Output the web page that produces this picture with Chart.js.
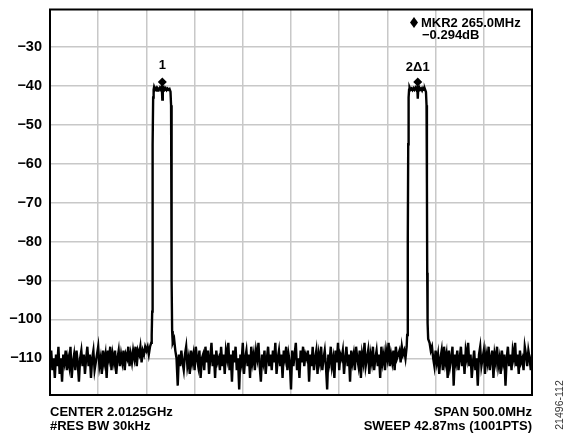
<!DOCTYPE html>
<html><head><meta charset="utf-8">
<script src="https://cdn.jsdelivr.net/npm/chart.js@4/dist/chart.umd.min.js"></script>
<style>html,body{margin:0;padding:0;background:#fff}#w{width:566px;height:436px}</style>
</head><body><div id="w"><canvas id="c" width="566" height="436"></canvas></div>
<script>
// Frequency offsets are in MHz from the start of the 500 MHz span (centre 2.0125 GHz)
const stepMHz = 1.25;
const noiseAStart = 0;
const noiseA = [
-111,-108,-113,-110,-115,-109,-112,-107,-114,-110,
-116,-109,-111,-108,-113,-110,-112,-107,-115,-111,
-109,-113,-108,-111,-116,-110,-108,-112,-109,-114,
-110,-107,-112,-109,-115,-110,-108,-113,-111,-109,
-107,-112,-110,-114,-108,-111,-109,-115,-108,-110,
-107,-113,-109,-111,-108,-114,-110,-108,-112,-109,
-111,-108,-113,-109,-110,-107,-112,-109,-111,-108,
-110,-107,-112,-108,-109,-107,-111,-108,-109,-107,
-108,-107,-109,-107,-106];
const band1Freq = [105.5,106,106.3,106.6,107,107.5,108,109,110,111,112,113,114,115,116,116.5,117,118,119,120,121,122,123,124,125,125.6,126,126.3,126.7,127.3];
const band1Level = [-104,-98,-80,-55,-43,-41,-40.3,-41,-40.6,-41.2,-40.7,-41,-40.5,-41,-40.2,-43.5,-40.8,-40.4,-41,-40.6,-41.1,-40.7,-41,-40.8,-41.5,-45,-65,-90,-103,-106];
const noiseBStart = 128.75;
const noiseB = [
-105,-108,-110,-117,-109,-112,-108,-111,-113,-109,
-107,-112,-110,-114,-108,-111,-109,-113,-107,-110,
-112,-108,-115,-110,-109,-113,-107,-111,-108,-114,
-110,-106,-112,-109,-115,-108,-111,-110,-113,-107,
-112,-109,-114,-108,-110,-106,-113,-109,-116,-108,
-111,-107,-113,-110,-118,-109,-111,-106,-114,-110,
-108,-112,-109,-115,-107,-111,-109,-113,-108,-110,
-106,-112,-116,-109,-111,-108,-114,-110,-107,-112,
-109,-113,-108,-111,-106,-114,-110,-108,-112,-109,
-115,-108,-110,-107,-113,-109,-111,-118,-108,-112,
-109,-106,-113,-110,-115,-108,-111,-107,-112,-109,
-110,-108,-116,-109,-112,-107,-113,-110,-108,-114,
-109,-111,-107,-113,-110,-108,-112,-118,-109,-111,
-107,-112,-110,-115,-108,-111,-106,-113,-109,-110,
-108,-114,-110,-107,-112,-109,-116,-108,-111,-109,
-113,-107,-110,-112,-108,-115,-109,-111,-106,-112,
-110,-108,-114,-109,-111,-107,-113,-110,-108,-112,
-109,-115,-107,-111,-109,-113,-108,-110,-106,-112,
-109,-111,-108,-113,-107,-110,-109,-108,-111,-107,
-109,-108,-110,-107];
const band2Freq = [370.5,371,371.3,371.6,372,372.5,373,374,375,376,377,378,379,380,381,381.5,382,383,384,385,386,387,388,389,390,390.6,391,391.3,391.7,392.3];
const band2Level = [-104,-98,-80,-55,-43,-41,-40.4,-41,-40.7,-41.1,-40.6,-41,-40.5,-41,-40.3,-43.3,-40.8,-40.4,-41,-40.7,-41.2,-40.6,-41,-40.9,-41.6,-45,-65,-88,-101,-105];
const noiseCStart = 393.75;
const noiseC = [
-106,-108,-107,-110,-112,-108,-111,-109,-114,-110,
-108,-113,-107,-111,-109,-115,-108,-112,-110,-107,
-117,-109,-111,-108,-113,-110,-107,-112,-109,-114,
-108,-110,-106,-112,-109,-115,-111,-108,-113,-110,
-117,-109,-107,-112,-110,-108,-114,-109,-111,-107,
-113,-110,-108,-115,-109,-111,-107,-112,-110,-114,
-108,-111,-109,-117,-110,-107,-112,-109,-113,-108,
-110,-106,-112,-109,-114,-108,-111,-110,-113,-107,
-109,-112,-108,-110,-113,-109];
const markerFreq = [116.5, 381.5];
const markerLevel = [-39.0, -39.0];
const markerLabels = ['1', '2Δ1'];
const yTicks = [-110,-100,-90,-80,-70,-60,-50,-40,-30];

const pts = [];
noiseA.forEach((v,i)=>pts.push({x:noiseAStart+i*stepMHz,y:v}));
band1Freq.forEach((f,i)=>pts.push({x:f,y:band1Level[i]}));
noiseB.forEach((v,i)=>pts.push({x:noiseBStart+i*stepMHz,y:v}));
band2Freq.forEach((f,i)=>pts.push({x:f,y:band2Level[i]}));
noiseC.forEach((v,i)=>pts.push({x:noiseCStart+i*stepMHz,y:v}));
const markers = markerFreq.map((f,i)=>({x:f,y:markerLevel[i]}));

const FONT = "'Liberation Sans', Arial, sans-serif";
const overlay = {
  id:'overlay',
  afterDraw(chart){
    const {ctx, chartArea:a, scales:{x,y}} = chart;
    ctx.save();
    ctx.strokeStyle='#000'; ctx.lineWidth=2;
    ctx.strokeRect(a.left, a.top, a.right-a.left, a.bottom-a.top);
    ctx.fillStyle='#000';
    ctx.font='bold 13px '+FONT;
    ctx.textAlign='center'; ctx.textBaseline='middle';
    markers.forEach((m,i)=>{
      ctx.fillText(markerLabels[i], x.getPixelForValue(m.x), y.getPixelForValue(m.y)-(i===0?17:15));
    });
    // marker readout
    ctx.textAlign='left';
    ctx.font='bold 13px '+FONT;
    const dx=414, dy=22.5;
    ctx.beginPath(); ctx.moveTo(dx,dy-5.5); ctx.lineTo(dx+4,dy); ctx.lineTo(dx,dy+5.5); ctx.lineTo(dx-4,dy); ctx.closePath(); ctx.fill();
    ctx.fillText('MKR2 265.0MHz', 421, 23);
    ctx.fillText('\u22120.294dB', 422, 35);
    // bottom annotations
    ctx.fillText('CENTER 2.0125GHz', 50, 412);
    ctx.fillText('#RES BW 30kHz', 50, 426);
    ctx.textAlign='right';
    ctx.fillText('SPAN 500.0MHz', 532, 412);
    ctx.fillText('SWEEP 42.87ms (1001PTS)', 532, 426);
    // figure id
    ctx.font='10.5px '+FONT;
    ctx.fillStyle='#333';
    ctx.translate(560,405); ctx.rotate(-Math.PI/2);
    ctx.textAlign='center';
    ctx.fillText('21496-112',0,0);
    ctx.restore();
  }
};

new Chart(document.getElementById('c'),{
  type:'line',
  data:{datasets:[
    {data:markers, showLine:false, pointStyle:'rectRot', pointRadius:4.5, pointBackgroundColor:'#000', pointBorderColor:'#000', borderWidth:0},
    {data:pts, borderColor:'#000', borderWidth:2.4, pointRadius:0, tension:0, fill:false}
  ]},
  options:{
    responsive:false, animation:false, events:[],
    layout:{padding:{top:9.5,right:34,left:0,bottom:0}},
    plugins:{legend:{display:false}, tooltip:{enabled:false}},
    scales:{
      x:{type:'linear', min:0, max:500,
         ticks:{display:false, stepSize:50},
         grid:{color:'#c8c8c8', lineWidth:1.5, drawTicks:false},
         border:{display:false},
         afterFit(s){s.height=41; s.paddingLeft=0; s.paddingRight=0;}},
      y:{type:'linear', min:-119.4, max:-20.4,
         afterBuildTicks(s){s.ticks=yTicks.map(v=>({value:v}));},
         ticks:{padding:8, color:'#000', font:{family:FONT, size:14.5, weight:'bold'},
                callback:v=>'\u2212'+Math.abs(v)},
         grid:{color:'#c8c8c8', lineWidth:1.5, drawTicks:false},
         border:{display:false},
         afterFit(s){s.width=50; s.paddingTop=0; s.paddingBottom=0;}}
    }
  },
  plugins:[overlay]
});
</script>
</body></html>
